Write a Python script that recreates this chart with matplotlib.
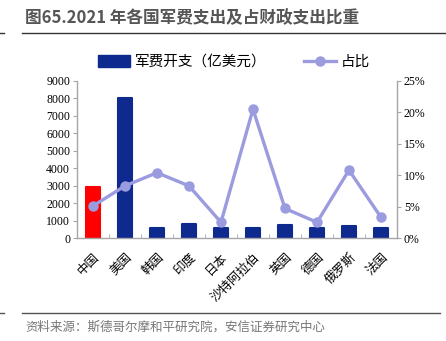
import numpy as np
import matplotlib.pyplot as plt
from matplotlib.lines import Line2D
from matplotlib.patches import Patch
from matplotlib.ticker import PercentFormatter, MultipleLocator, FixedLocator

plt.rcParams["font.family"] = ["Noto Sans CJK SC", "DejaVu Sans"]

countries = ["中国", "美国", "韩国", "印度", "日本", "沙特阿拉伯", "英国", "德国", "俄罗斯", "法国"]
spending = [2930, 8010, 560, 790, 590, 590, 720, 590, 700, 600]
share = [5.1, 8.3, 10.4, 8.3, 2.5, 20.5, 4.7, 2.5, 10.8, 3.3]

navy = "#0F2A8E"
red = "#FF0000"
lav = "#9B9BE0"
grey_spine = "#A6A6A6"

fig = plt.figure(figsize=(4.46, 3.41), dpi=100)
ax = fig.add_axes([0.1726, 0.302, 0.7175, 0.4605])
ax2 = ax.twinx()

x = np.arange(len(countries))
colors = [red] + [navy] * (len(countries) - 1)
bars = ax.bar(x, spending, width=0.46, color=colors, edgecolor=colors, linewidth=1.5, zorder=2)
for b in bars:
    b.set_joinstyle("round")

ax2.plot(x, np.array(share) / 100, color=lav, lw=2.4, marker="o", ms=6.5, zorder=3)

ax.set_xlim(-0.5, len(countries) - 0.5)
ax.set_ylim(0, 9000)
ax.yaxis.set_major_locator(MultipleLocator(1000))
ax2.set_ylim(0, 0.25)
ax2.yaxis.set_major_locator(MultipleLocator(0.05))
ax2.yaxis.set_major_formatter(PercentFormatter(1.0, decimals=0))

for a in (ax, ax2):
    a.spines["top"].set_visible(False)
    for s in ("left", "right", "bottom"):
        a.spines[s].set_color(grey_spine)
        a.spines[s].set_linewidth(1.0)
ax.spines["right"].set_visible(False)
ax2.spines["left"].set_visible(False)
ax2.spines["bottom"].set_visible(False)

ax.set_xticks(x)
ax.set_xticklabels(countries, rotation=45, ha="right", rotation_mode="anchor", fontsize=9)
ax.tick_params(axis="x", length=0, pad=9)
ax.xaxis.set_minor_locator(FixedLocator(np.arange(0.5, len(countries) - 0.5)))
ax.tick_params(axis="x", which="minor", direction="in", length=3, color=grey_spine)
ax.tick_params(axis="y", length=3, color=grey_spine, pad=2)
ax2.tick_params(axis="y", length=3, color=grey_spine, pad=2)
for lbl in ax.get_yticklabels() + ax2.get_yticklabels():
    lbl.set_family("Liberation Serif")
    lbl.set_fontsize(8.5)

handles = [
    Patch(facecolor=navy, edgecolor=navy),
    Line2D([], [], color=lav, lw=2.4, marker="o", ms=6.5),
]
fig.legend(handles, ["军费开支（亿美元）", "占比"], loc="center", bbox_to_anchor=(0.525, 0.818),
           ncol=2, frameon=False, fontsize=10.5, handlelength=2.2, handleheight=0.8,
           columnspacing=2.6, handletextpad=0.3)

# header and footer rules
fig.add_artist(Line2D([22 / 446, 1], [1 - 33 / 341] * 2, color="#333333", lw=1.0))
fig.add_artist(Line2D([0, 4 / 446], [1 - 33 / 341] * 2, color="#333333", lw=1.0))
fig.add_artist(Line2D([22 / 446, 440 / 446], [1 - 313 / 341] * 2, color="#555555", lw=1.0))
fig.add_artist(Line2D([0, 4 / 446], [1 - 313 / 341] * 2, color="#555555", lw=1.0))

fig.text(25 / 446, 1 - 18 / 341, "图65.2021 年各国军费支出及占财政支出比重", fontsize=12,
         color="#555555", weight="bold", va="center", ha="left")
fig.text(25 / 446, 1 - 327 / 341, "资料来源：斯德哥尔摩和平研究院，安信证券研究中心", fontsize=9,
         color="#777777", style="italic", va="center", ha="left")

fig.savefig("out.png", dpi=100)
